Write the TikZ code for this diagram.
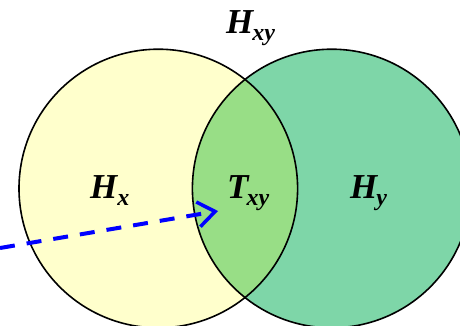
\documentclass[tikz,border=0pt]{standalone}
\usepackage{fontspec}
\setmainfont{Liberation Serif}
\usetikzlibrary{arrows.meta}
\definecolor{cyel}{RGB}{255,255,204}
\definecolor{cgrn}{RGB}{126,214,168}
\definecolor{cmid}{RGB}{152,222,134}
\definecolor{cblue}{RGB}{0,0,255}
\newcommand{\lsub}[1]{\raisebox{-7pt}{\fontsize{24}{24}\selectfont #1}}
\begin{document}
\begin{tikzpicture}[x=1pt,y=-1pt,
  lab/.style={inner sep=0pt,anchor=base west,font=\fontsize{35}{35}\selectfont\bfseries\itshape},
  ring/.style={draw=black,line width=1.6pt}]
\useasboundingbox (0,0) rectangle (460,325);
\begin{scope}
\clip (0,0) rectangle (460,325);
\coordinate (cl) at (158.3,188.5);
\coordinate (cr) at (331.7,188.5);
\fill[cyel] (cl) circle[radius=139.3pt];
\fill[cgrn] (cr) circle[radius=139.3pt];
\begin{scope}
\clip (cl) circle[radius=139.3pt];
\fill[cmid] (cr) circle[radius=139.3pt];
\end{scope}
\draw[ring] (cl) circle[radius=139.3pt];
\draw[ring] (cr) circle[radius=139.3pt];
\end{scope}
\node[lab] (hxy) at (226,33) {H\kern-1pt\lsub{xy}};
\node[lab] (hx) at (90,198) {H\lsub{x}};
\node[lab] (txy) at (227,198) {T\kern-2pt\lsub{xy}};
\node[lab] (hy) at (350,198) {H\kern-1pt\lsub{y}};
\coordinate (as) at (0,248);
\coordinate (at) at (218,211);
\draw[cblue,line width=4pt,dash pattern=on 15pt off 12pt,
  -{Straight Barb[length=17pt,width=25pt,line width=3.5pt]}] (as) -- (at);
\end{tikzpicture}
\end{document}
